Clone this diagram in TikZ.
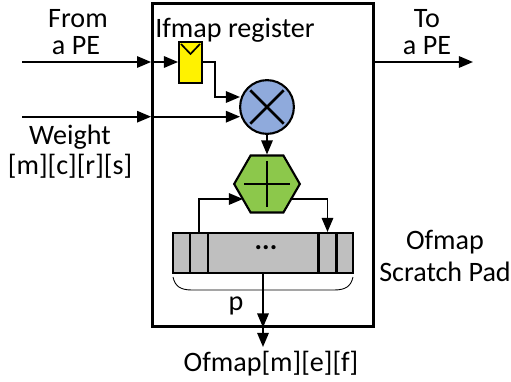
\documentclass[tikz,border=0pt]{standalone}
\usepackage{fontspec}
\setmainfont{Carlito}
\usetikzlibrary{arrows.meta,shapes.geometric}
\definecolor{mulblue}{HTML}{8FAADC}
\definecolor{addgreen}{HTML}{8CC84B}
\definecolor{padgray}{HTML}{BFBFBF}
\tikzset{
  >={Triangle[length=8pt,width=6.5pt]},
  wire/.style={line width=0.95pt},
  oline/.style={line width=1.2pt},
  label/.style={font=\fontsize{16}{18}\selectfont,inner sep=0pt},
  cell/.style={draw,oline,fill=padgray,minimum width=10.2pt,minimum height=22.7pt,inner sep=0pt}
}
\begin{document}
\begin{tikzpicture}[x=0.02cm,y=-0.02cm]
\useasboundingbox (0,0) rectangle (511,382);
\node[draw,line width=1.4pt,minimum width=126pt,minimum height=183.6pt,inner sep=0pt] (PE) at (263,165) {};
\node[draw,oline,fill=yellow,minimum width=13pt,minimum height=23.2pt,inner sep=0pt] (Reg) at (190.5,62.5) {};
\draw[wire] (181,44) -- (190.5,54) -- (200,44);
\node[draw,oline,circle,fill=mulblue,minimum size=30.6pt,inner sep=0pt] (Mul) at (267,107) {};
\node[draw,oline,regular polygon,regular polygon sides=6,fill=addgreen,minimum size=37.4pt,inner sep=0pt] (Add) at (267,184) {};
\node[draw,oline,fill=padgray,minimum width=102pt,minimum height=22.7pt,inner sep=0pt,font=\fontsize{16}{18}\selectfont\bfseries] (Pad) at (263,253) {};
\node[cell] (C1) at (199,253) {};
\node[cell] (C2) at (327.5,253) {};
\node[inner sep=0pt,font=\fontsize{16}{18}\selectfont\bfseries] (Dots) at (266,248) {...};
\coordinate (In1) at (22,62);
\coordinate (In2) at (22,116.7);
\coordinate (Box1) at (PE.west|-In1);
\coordinate (Box2) at (PE.west|-In2);
\coordinate (Out) at (473,62);
\coordinate (MulIn1) at (240,97);
\coordinate (MulIn2) at (240,116.7);
\coordinate (AddIn) at (243,199);
\coordinate (AddOut) at (290,199);
\coordinate (Res) at (263,347);
\node[label] (From) at (78,18.5) {From};
\node[label] (FromPE) at (76,46) {a PE};
\node[label] (To) at (427,18.5) {To};
\node[label] (ToPE) at (427,46) {a PE};
\node[label] (Weight) at (70,137) {Weight};
\node[label] (Idx) at (70,166) {[m][c][r][s]};
\node[label] (Ifmap) at (235,30) {Ifmap register};
\node[label] (Ofmap) at (445,242) {Ofmap};
\node[label] (Scratch) at (445,272) {Scratch Pad};
\node[label] (P) at (236,306) {p};
\node[label] (Result) at (271,364) {Ofmap[m][e][f]};
\draw[wire,->] (In1) -- (Box1);
\draw[wire,->] (Box1) -- (Reg.west|-In1);
\draw[wire,->] (In2) -- (Box2);
\draw[wire,->] (Box2) -- (MulIn2);
\draw[wire,->] (Reg.east|-In1) -| (215,97) -- (MulIn1);
\draw[wire,->] (Mul) -- (Add);
\draw[wire,->] (C1.north) |- (AddIn);
\draw[wire,->] (AddOut) -| (C2.north);
\draw[wire,->] (PE.east|-Out) -- (Out);
\draw[wire,->] (Pad.south-|Res) -- (PE.south-|Res);
\draw[wire,->] (PE.south-|Res) -- (Res);
\draw[line width=0.5pt] (173,277) .. controls (175,286) and (180,290) .. (192,290) -- (334,290) .. controls (346,290) and (351,286) .. (353,277);
\draw[line width=1.6pt,shorten <=2.5pt,shorten >=2.5pt] (Mul.45) -- (Mul.225);
\draw[line width=1.6pt,shorten <=2.5pt,shorten >=2.5pt] (Mul.135) -- (Mul.315);
\draw[line width=1.6pt,shorten <=3.7pt,shorten >=3.7pt] (Add.north) -- (Add.south);
\draw[line width=1.6pt,shorten <=6.2pt,shorten >=6.2pt] (Add.west) -- (Add.east);
\end{tikzpicture}
\end{document}
